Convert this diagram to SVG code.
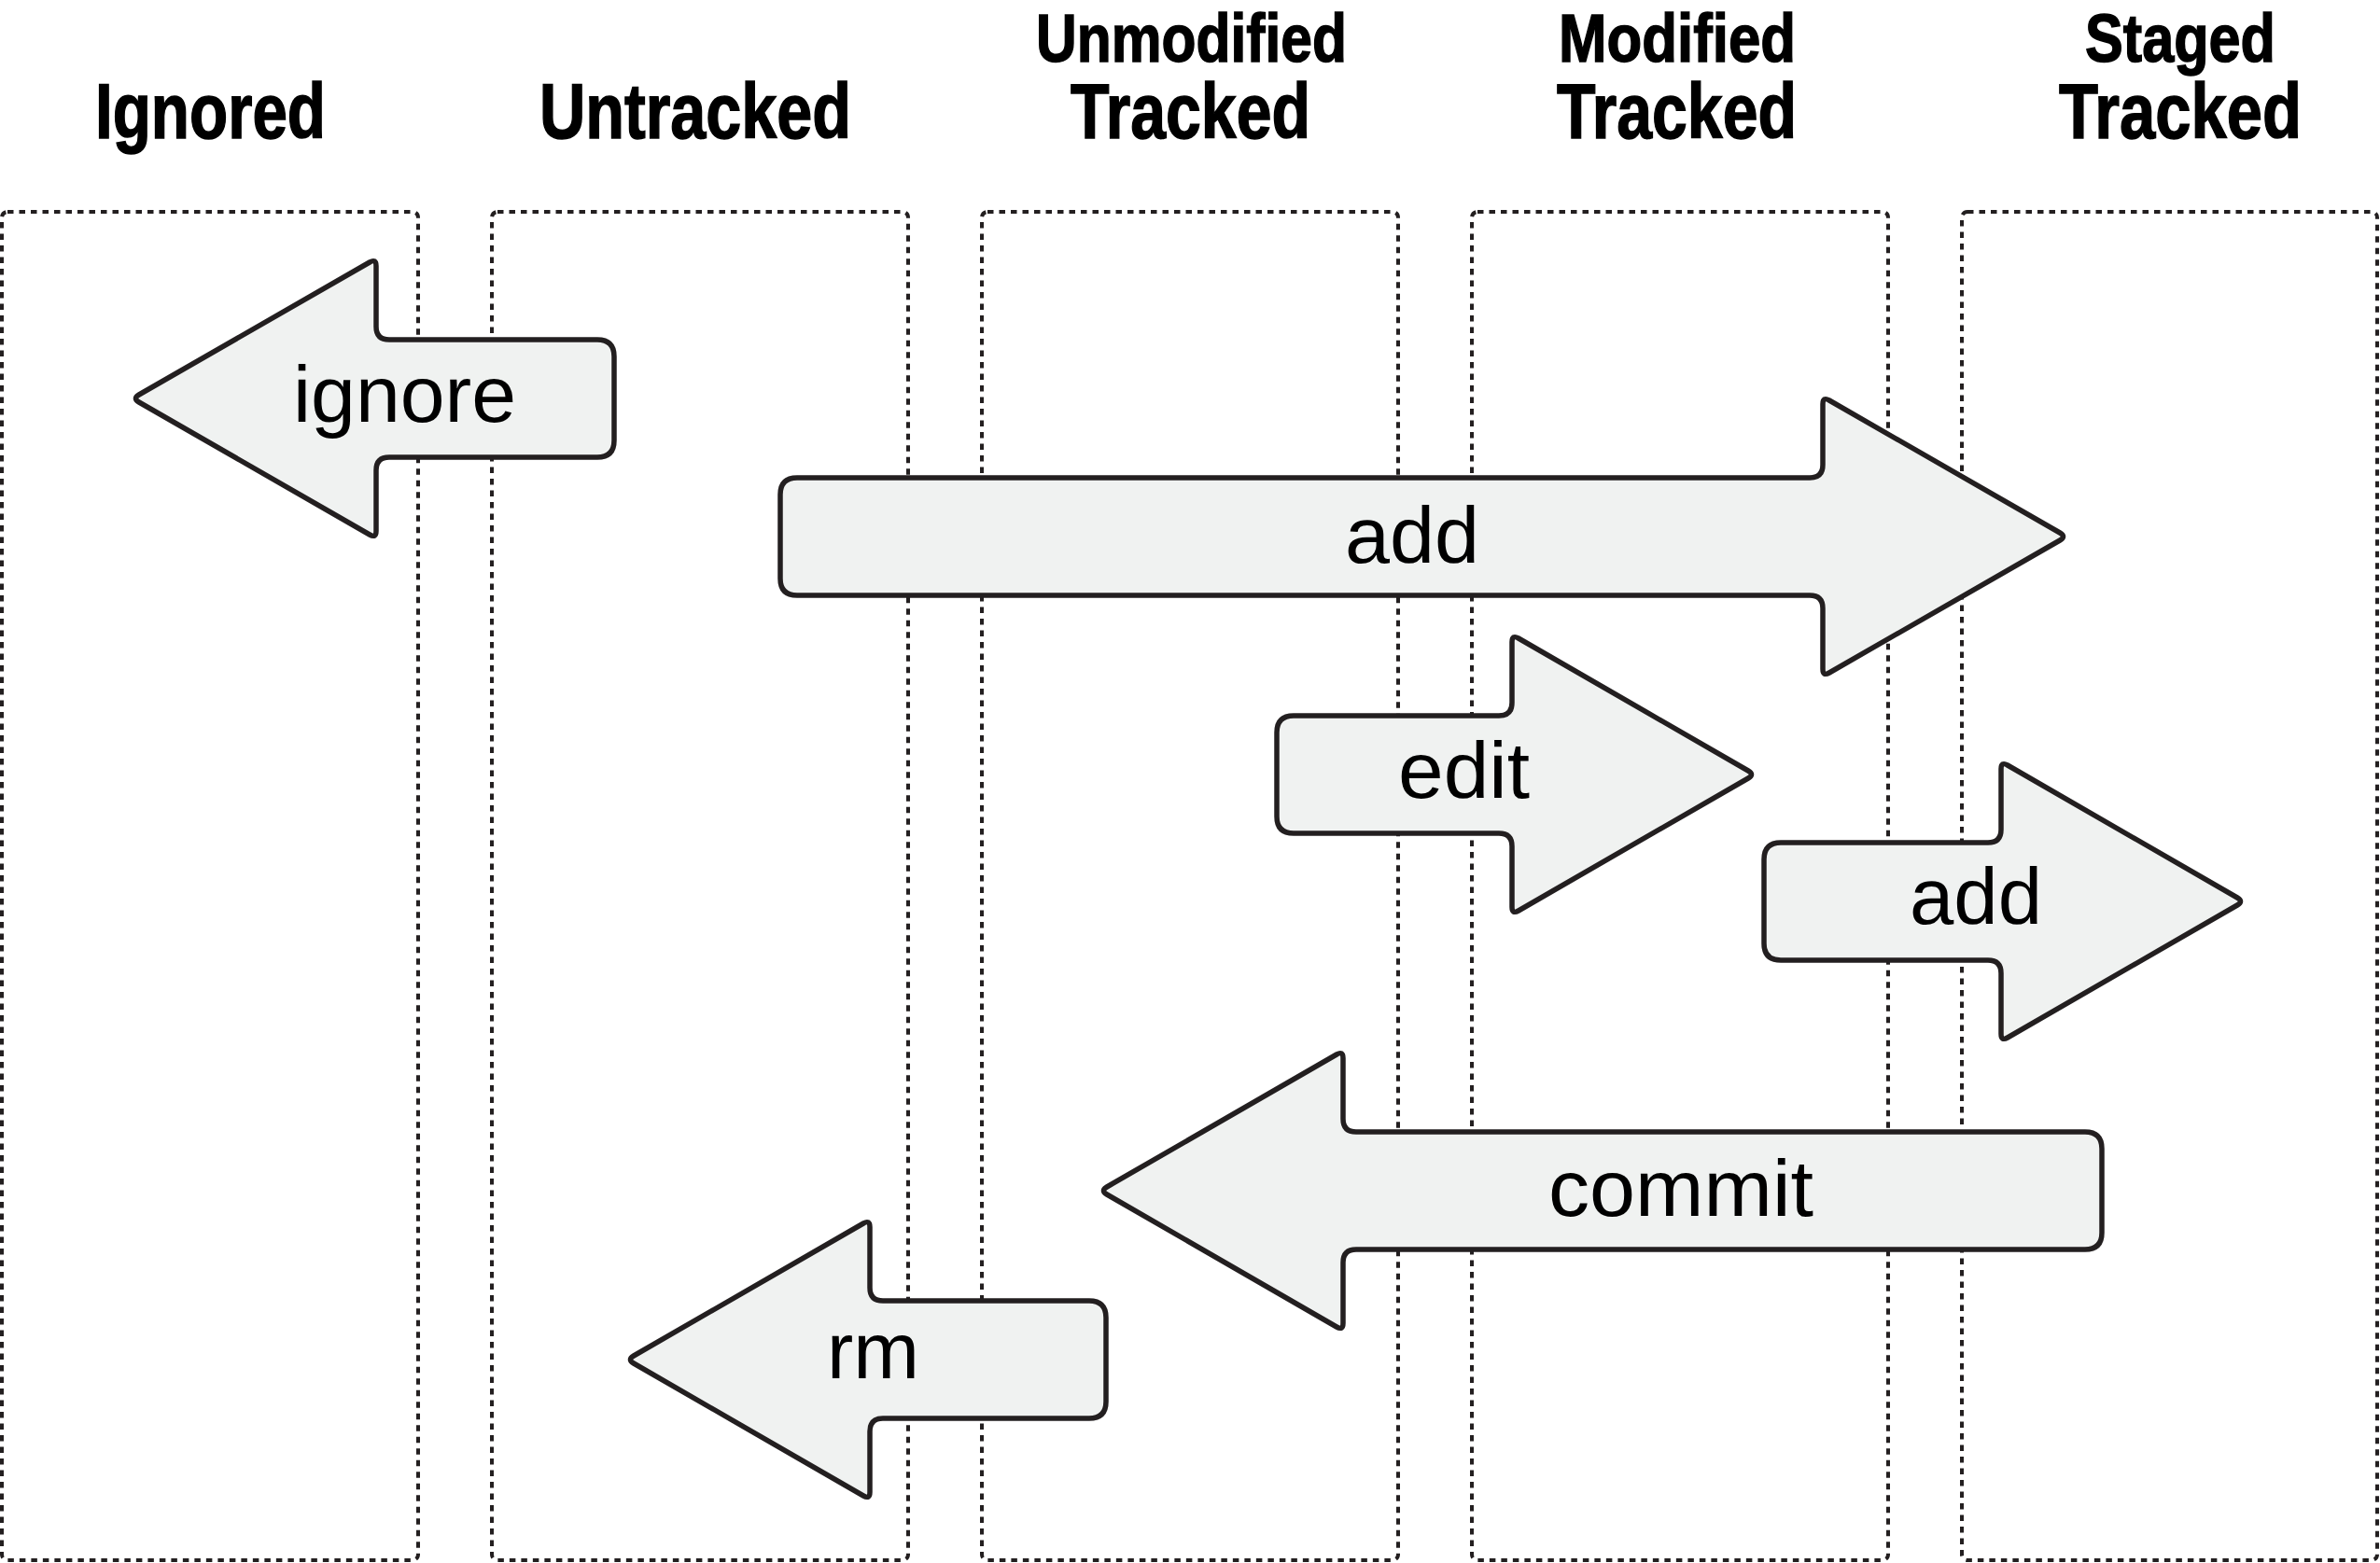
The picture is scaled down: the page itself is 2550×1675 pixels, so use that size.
<svg xmlns="http://www.w3.org/2000/svg" width="2550" height="1675" viewBox="0 0 2550 1675">
<style>
.col{fill:none;stroke:#231f20;stroke-width:4;stroke-dasharray:6.5 6}
.hdr{font-family:"Liberation Sans",Arial,sans-serif;font-weight:bold;font-size:84px;fill:#000;stroke:#000;stroke-width:1.5}
.hdr1{font-size:73px}
.arr{fill:#f0f2f1;stroke:#231f20;stroke-width:5.5;stroke-linejoin:round}
.lbl{font-family:"Liberation Sans",Arial,sans-serif;font-size:86px;fill:#000}
</style>
<rect width="2550" height="1675" fill="#fff"/>
<g id="col-ignored">
<rect class="col" x="2" y="227" width="446" height="1445" rx="6"/>
<text class="hdr" x="102" y="148" textLength="247" lengthAdjust="spacingAndGlyphs">Ignored</text>
</g>
<g id="col-untracked">
<rect class="col" x="527" y="227" width="446" height="1445" rx="6"/>
<text class="hdr" x="578" y="148" textLength="334" lengthAdjust="spacingAndGlyphs">Untracked</text>
</g>
<g id="col-unmodified">
<rect class="col" x="1052" y="227" width="446" height="1445" rx="6"/>
<text class="hdr hdr1" x="1110" y="66" textLength="333" lengthAdjust="spacingAndGlyphs">Unmodified</text>
<text class="hdr" x="1147" y="148" textLength="257" lengthAdjust="spacingAndGlyphs">Tracked</text>
</g>
<g id="col-modified">
<rect class="col" x="1577" y="227" width="446" height="1445" rx="6"/>
<text class="hdr hdr1" x="1670" y="66" textLength="254" lengthAdjust="spacingAndGlyphs">Modified</text>
<text class="hdr" x="1668" y="148" textLength="257" lengthAdjust="spacingAndGlyphs">Tracked</text>
</g>
<g id="col-staged">
<rect class="col" x="2102" y="227" width="445" height="1445" rx="6"/>
<text class="hdr hdr1" x="2234" y="66" textLength="204" lengthAdjust="spacingAndGlyphs">Staged</text>
<text class="hdr" x="2206" y="148" textLength="260" lengthAdjust="spacingAndGlyphs">Tracked</text>
</g>
<g id="connectors">
<g id="arrow-ignore">
<path class="arr" d="M 640,364 L 417,364 Q 403,364 403,350 L 403,285 Q 403,277 396.1,281 L 148.9,423 Q 142,427 148.9,431 L 396.1,573 Q 403,577 403,569 L 403,504 Q 403,490 417,490 L 640,490 Q 658,490 658,472 L 658,382 Q 658,364 640,364 Z"/>
<text class="lbl" x="314" y="452" textLength="239" lengthAdjust="spacingAndGlyphs">ignore</text>
</g>
<g id="arrow-add-untracked">
<path class="arr" d="M 854,512 L 1939,512 Q 1953,512 1953,498 L 1953,433 Q 1953,425 1959.9,429 L 2207.1,571 Q 2214,575 2207.1,579 L 1959.9,721 Q 1953,725 1953,717 L 1953,652 Q 1953,638 1939,638 L 854,638 Q 836,638 836,620 L 836,530 Q 836,512 854,512 Z"/>
<text class="lbl" x="1441" y="603" textLength="144" lengthAdjust="spacingAndGlyphs">add</text>
</g>
<g id="arrow-edit">
<path class="arr" d="M 1386,767 L 1606,767 Q 1620,767 1620,753 L 1620,688 Q 1620,680 1626.9,684 L 1873.1,826 Q 1880,830 1873.1,834 L 1626.9,976 Q 1620,980 1620,972 L 1620,907 Q 1620,893 1606,893 L 1386,893 Q 1368,893 1368,875 L 1368,785 Q 1368,767 1386,767 Z"/>
<text class="lbl" x="1498" y="855" textLength="141" lengthAdjust="spacingAndGlyphs">edit</text>
</g>
<g id="arrow-add-modified">
<path class="arr" d="M 1908,903 L 2130,903 Q 2144,903 2144,889 L 2144,824 Q 2144,816 2150.9,820 L 2397.1,962 Q 2404,966 2397.1,970 L 2150.9,1112 Q 2144,1116 2144,1108 L 2144,1043 Q 2144,1029 2130,1029 L 1908,1029 Q 1890,1029 1890,1011 L 1890,921 Q 1890,903 1908,903 Z"/>
<text class="lbl" x="2046" y="990" textLength="142" lengthAdjust="spacingAndGlyphs">add</text>
</g>
<g id="arrow-commit">
<path class="arr" d="M 2234,1213 L 1453,1213 Q 1439,1213 1439,1199 L 1439,1134 Q 1439,1126 1432.1,1130 L 1185.9,1272 Q 1179,1276 1185.9,1280 L 1432.1,1422 Q 1439,1426 1439,1418 L 1439,1353 Q 1439,1339 1453,1339 L 2234,1339 Q 2252,1339 2252,1321 L 2252,1231 Q 2252,1213 2234,1213 Z"/>
<text class="lbl" x="1659" y="1303" textLength="284" lengthAdjust="spacingAndGlyphs">commit</text>
</g>
<g id="arrow-rm">
<path class="arr" d="M 1167,1394 L 946,1394 Q 932,1394 932,1380 L 932,1315 Q 932,1307 925.1,1311 L 678.9,1453 Q 672,1457 678.9,1461 L 925.1,1603 Q 932,1607 932,1599 L 932,1534 Q 932,1520 946,1520 L 1167,1520 Q 1185,1520 1185,1502 L 1185,1412 Q 1185,1394 1167,1394 Z"/>
<text class="lbl" x="886" y="1477" textLength="99" lengthAdjust="spacingAndGlyphs">rm</text>
</g>
</g>
</svg>
